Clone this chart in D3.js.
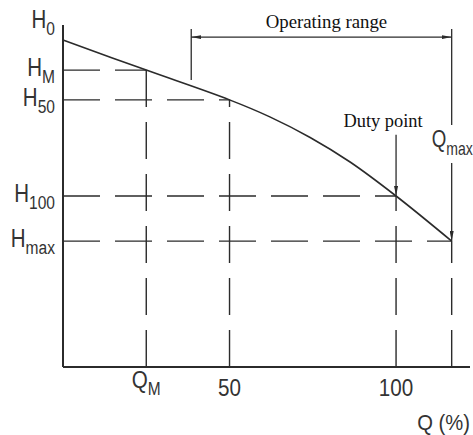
<!DOCTYPE html>
<html>
<head>
<meta charset="utf-8">
<script src="https://cdn.jsdelivr.net/npm/d3@7"></script>
<style>
  html, body { margin: 0; padding: 0; background: #fff; }
  .lbl { font-family: 'Liberation Sans', Arial, sans-serif; fill: #333; }
  .note { font-family: 'Liberation Serif', 'Times New Roman', serif; fill: #111; }
</style>
</head>
<body>
<svg id="chart" width="473" height="435"></svg>
<script>
// pump curve, Q and H both in % (H relative to shut-off head H0)
const flowPct = [0, 25, 50, 62.1, 74.2, 86.2, 100, 116.7]
const headPct = [100, 90.8, 81.7, 76.5, 70.2, 62.7, 52.3, 38.5]

// reference points: H0, HM, H50, H100, Hmax
const refNames = ['0', 'M', '50', '100', 'max']
const refFlow = [0, 25, 50, 100, 116.7]
const refHead = [100, 90.8, 81.7, 52.3, 38.5]

// x-axis tick labels
const qTickValues = [25, 50, 100]
const qTickMain = ['Q', '50', '100']
const qTickSub = ['M', '', '']

const opRange = [38.5, 116.7]   // operating range, Q %
const dutyFlow = 100

const svg = d3.select('#chart')
const x = d3.scaleLinear().domain([0, 122.2]).range([63, 470])
const y = d3.scaleLinear().domain([0, 104.6]).range([367, 25])

const ink = '#2b2b2b'
// the drawing uses a condensed sans; squeeze the regular one horizontally
const squeeze = (sel, px, py, k) => sel.attr('transform', `translate(${px},${py}) scale(${k},1)`)

const defs = svg.append('defs')
const marker = (id, orient) => defs.append('marker')
  .attr('id', id).attr('viewBox', '0 0 10 4').attr('refX', 10).attr('refY', 2)
  .attr('markerWidth', 10).attr('markerHeight', 4).attr('markerUnits', 'userSpaceOnUse')
  .attr('orient', orient)
  .append('path').attr('d', 'M0,0L10,2L0,4Z').attr('fill', ink)
marker('arr', 'auto')
marker('arrStart', 'auto-start-reverse')

// axes (plain lines, no ticks)
svg.append('line').attr('x1', x(0)).attr('x2', x(0)).attr('y1', y(104.6)).attr('y2', y(0))
  .attr('stroke', ink).attr('stroke-width', 2)
svg.append('line').attr('x1', x(0)).attr('x2', x(122.2)).attr('y1', y(0)).attr('y2', y(0))
  .attr('stroke', ink).attr('stroke-width', 2)

// dashed guide lines
const dash = '37,15'
const guides = refNames.map((n, i) => ({n, q: refFlow[i], h: refHead[i]})).filter(d => d.q > 0)
svg.selectAll('.hguide').data(guides).join('line').attr('class', 'hguide')
  .attr('x1', x(0)).attr('x2', d => x(d.q)).attr('y1', d => y(d.h)).attr('y2', d => y(d.h))
  .attr('stroke', ink).attr('stroke-width', 1.4).attr('stroke-dasharray', dash)
svg.selectAll('.vguide').data(guides).join('line').attr('class', 'vguide')
  .attr('x1', d => x(d.q)).attr('x2', d => x(d.q)).attr('y1', y(0)).attr('y2', d => y(d.h))
  .attr('stroke', ink).attr('stroke-width', 1.4).attr('stroke-dasharray', dash)

// pump curve
const line = d3.line().x((d, i) => x(flowPct[i])).y(d => y(d)).curve(d3.curveCatmullRom.alpha(0.5))
svg.append('path').attr('d', line(headPct)).attr('fill', 'none').attr('stroke', ink).attr('stroke-width', 1.6)

// operating range bracket
const opY = 100.9
svg.append('line').attr('x1', x(opRange[0])).attr('x2', x(opRange[0])).attr('y1', y(103.4)).attr('y2', y(87.8))
  .attr('stroke', ink).attr('stroke-width', 1.3)
svg.append('line').attr('x1', x(opRange[0])).attr('x2', x(opRange[1])).attr('y1', y(opY)).attr('y2', y(opY))
  .attr('stroke', ink).attr('stroke-width', 1.3)
  .attr('marker-start', 'url(#arrStart)').attr('marker-end', 'url(#arr)')
svg.append('text').attr('class', 'note').attr('x', x(d3.mean(opRange)) + 5).attr('y', 28)
  .attr('text-anchor', 'middle').attr('font-size', 18.8).text('Operating range')

// Qmax vertical: solid to the curve end, broken for its label
const qMax = opRange[1]
svg.append('line').attr('x1', x(qMax)).attr('x2', x(qMax)).attr('y1', y(103.4)).attr('y2', y(74))
  .attr('stroke', ink).attr('stroke-width', 1.3)
svg.append('line').attr('x1', x(qMax)).attr('x2', x(qMax)).attr('y1', y(62.4)).attr('y2', y(refHead[4]))
  .attr('stroke', ink).attr('stroke-width', 1.3).attr('marker-end', 'url(#arr)')
const qmaxLbl = squeeze(svg.append('text').attr('class', 'lbl').attr('font-size', 24), x(qMax) - 20, 147, 0.78)
qmaxLbl.append('tspan').text('Q')
qmaxLbl.append('tspan').attr('dy', 8).attr('font-size', 18).text('max')

// duty point arrow
svg.append('line').attr('x1', x(dutyFlow)).attr('x2', x(dutyFlow)).attr('y1', y(71)).attr('y2', y(refHead[3]))
  .attr('stroke', ink).attr('stroke-width', 1.3).attr('marker-end', 'url(#arr)')
svg.append('text').attr('class', 'note').attr('x', x(dutyFlow) - 13).attr('y', 127)
  .attr('text-anchor', 'middle').attr('font-size', 18.4).text('Duty point')

// H labels
const hl = svg.selectAll('.hl').data(refNames).join('text').attr('class', 'hl lbl')
  .attr('text-anchor', 'end').attr('font-size', 25)
  .attr('transform', (d, i) => `translate(55,${i === 0 ? 28 : y(refHead[i]) + 6}) scale(0.82,1)`)
hl.append('tspan').text('H')
hl.append('tspan').attr('dy', 7).attr('font-size', 19).text(d => d)

// Q tick labels
const ql = svg.selectAll('.ql').data(qTickValues).join('text').attr('class', 'ql lbl')
  .attr('text-anchor', 'middle').attr('font-size', 24)
  .attr('transform', (d, i) => `translate(${x(d)},${qTickSub[i] ? 388 : 396}) scale(0.86,1)`)
ql.append('tspan').text((d, i) => qTickMain[i])
ql.filter((d, i) => qTickSub[i]).append('tspan').attr('dy', 7).attr('font-size', 18).text((d, i) => qTickSub[i])

squeeze(svg.append('text').attr('class', 'lbl').attr('text-anchor', 'end').attr('font-size', 22), 470, 430, 0.92)
  .text('Q (%)')
</script>
</body>
</html>
